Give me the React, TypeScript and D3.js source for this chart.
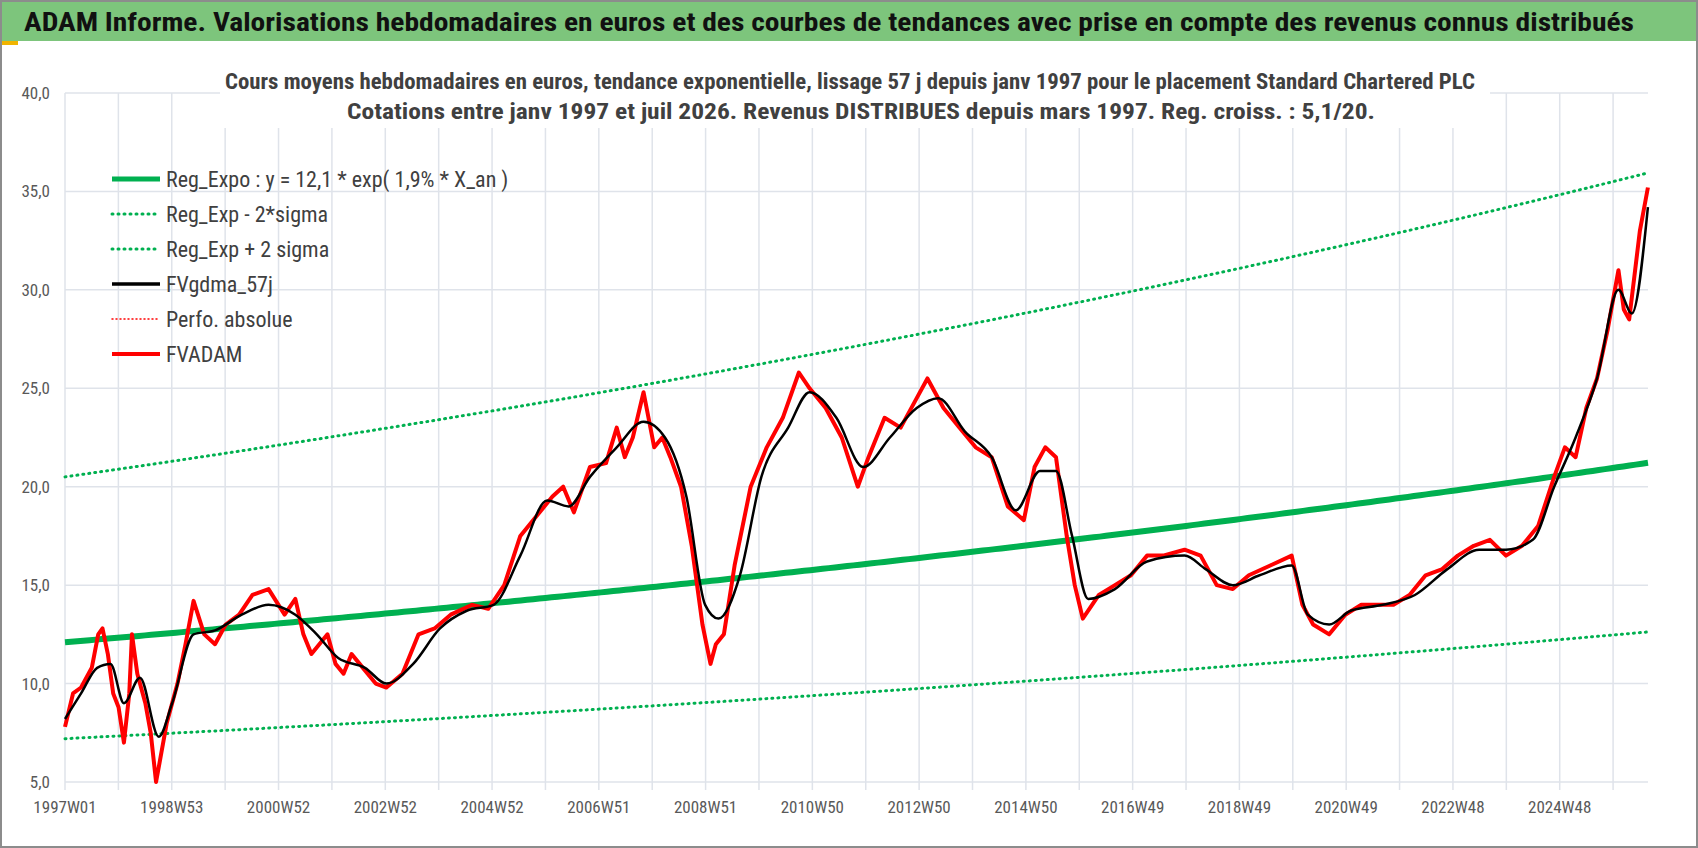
import React from "react";
import * as d3 from "d3";

const redYears = [1997.0,1997.15,1997.3,1997.5,1997.62,1997.7,1997.8,1997.9,1998.0,1998.1,1998.2,1998.25,1998.35,1998.5,1998.6,1998.7,1998.8,1998.9,1999.1,1999.25,1999.4,1999.6,1999.8,2000.0,2000.25,2000.5,2000.8,2001.1,2001.3,2001.45,2001.6,2001.9,2002.05,2002.2,2002.35,2002.5,2002.8,2003.0,2003.3,2003.6,2003.9,2004.2,2004.6,2004.9,2005.2,2005.5,2005.8,2006.1,2006.3,2006.5,2006.8,2007.1,2007.3,2007.45,2007.6,2007.8,2008.0,2008.15,2008.3,2008.5,2008.7,2008.9,2009.05,2009.15,2009.3,2009.5,2009.8,2010.1,2010.4,2010.7,2010.9,2011.2,2011.5,2011.8,2012.0,2012.3,2012.6,2012.9,2013.1,2013.4,2013.7,2014.0,2014.3,2014.6,2014.9,2015.1,2015.3,2015.5,2015.7,2015.85,2016.0,2016.3,2016.6,2016.9,2017.2,2017.5,2017.9,2018.2,2018.5,2018.8,2019.1,2019.5,2019.9,2020.1,2020.3,2020.6,2020.9,2021.2,2021.5,2021.8,2022.1,2022.4,2022.7,2023.0,2023.3,2023.6,2023.9,2024.2,2024.5,2024.8,2025.0,2025.2,2025.4,2025.6,2025.8,2026.0,2026.1,2026.2,2026.4,2026.55];
const redValues = [7.8,9.5,9.8,10.8,12.5,12.8,11.5,9.5,8.8,7.0,9.5,12.5,10.5,9.0,7.5,5.0,6.5,8.0,10.0,12.0,14.2,12.5,12.0,13.0,13.5,14.5,14.8,13.5,14.3,12.5,11.5,12.5,11.0,10.5,11.5,11.0,10.0,9.8,10.5,12.5,12.8,13.5,14.0,13.8,15.0,17.5,18.5,19.5,20.0,18.7,21.0,21.2,23.0,21.5,22.5,24.8,22.0,22.5,21.5,20.0,17.0,13.0,11.0,12.0,12.5,16.0,20.0,22.0,23.5,25.8,25.0,24.0,22.5,20.0,21.5,23.5,23.0,24.5,25.5,24.0,23.0,22.0,21.5,19.0,18.3,21.0,22.0,21.5,17.5,15.0,13.3,14.5,15.0,15.5,16.5,16.5,16.8,16.5,15.0,14.8,15.5,16.0,16.5,14.0,13.0,12.5,13.5,14.0,14.0,14.0,14.5,15.5,15.8,16.5,17.0,17.3,16.5,17.0,18.0,20.5,22.0,21.5,24.0,25.5,28.0,31.0,29.0,28.5,33.0,35.2];

const blackYears = [1997.0,1997.3,1997.6,1997.85,1998.1,1998.4,1998.75,1999.0,1999.4,1999.8,2000.3,2000.8,2001.3,2001.7,2002.1,2002.6,2003.0,2003.5,2004.0,2004.5,2005.0,2005.5,2006.0,2006.4,2006.8,2007.3,2007.8,2008.2,2008.6,2008.95,2009.2,2009.6,2010.0,2010.5,2010.9,2011.4,2011.9,2012.4,2012.9,2013.3,2013.8,2014.3,2014.75,2015.2,2015.5,2015.8,2016.1,2016.6,2017.2,2017.9,2018.3,2018.8,2019.3,2019.9,2020.2,2020.6,2021.0,2021.6,2022.2,2022.8,2023.4,2023.9,2024.4,2024.8,2025.2,2025.6,2026.0,2026.25,2026.55];
const blackValues = [8.2,9.5,10.8,11.0,9.0,10.3,7.3,9.0,12.5,12.7,13.5,14.0,13.5,12.5,11.3,10.8,10.0,11.0,12.8,13.7,14.0,16.5,19.3,19.0,20.5,22.0,23.3,22.5,19.5,14.0,13.3,15.5,20.5,23.0,24.8,23.5,21.0,22.5,24.0,24.5,22.8,21.5,18.8,20.8,20.8,17.5,14.3,14.8,16.2,16.5,15.8,15.0,15.5,16.0,13.5,13.0,13.7,14.0,14.5,15.8,16.8,16.8,17.3,20.0,22.5,25.5,30.0,28.8,34.2];

const trendA = 12.1;
const trendLow = 7.2;
const trendHigh = 20.5;
const trendRate = 0.019;
const yTicks = [5,10,15,20,25,30,35,40];
const xTickLabels = ["1997W01","1998W53","2000W52","2002W52","2004W52","2006W51","2008W51","2010W50","2012W50","2014W50","2016W49","2018W49","2020W49","2022W48","2024W48"];

const TOTAL_WEEKS = 1542;
const W = 1698, H = 848;

export default function App() {
  const x = d3.scaleLinear().domain([0, TOTAL_WEEKS]).range([65, 1648]);
  const y = d3.scaleLinear().domain([5, 40]).range([782, 93]);
  const wk = (yr: number) => (yr - 1997) * 52.18;
  const line = d3.line<[number, number]>().x(d => x(d[0])).y(d => y(d[1]));
  const smooth = d3.line<[number, number]>().x(d => x(d[0])).y(d => y(d[1])).curve(d3.curveMonotoneX);
  const red = line(redYears.map((t, i) => [wk(t), redValues[i]]));
  const black = smooth(blackYears.map((t, i) => [wk(t), blackValues[i]]));
  const trendPts = (a: number) => d3.range(0, TOTAL_WEEKS + 1, 6).map(w => [w, a * Math.exp(trendRate * w / 52.18)] as [number, number]);
  const vgrid = d3.range(0, TOTAL_WEEKS + 1, 52);
  const font = "'Liberation Sans Narrow', 'Roboto Condensed', 'Arial Narrow', sans-serif";
  const legend = [
    { t: "Reg_Expo : y = 12,1 * exp( 1,9% *  X_an )", c: "#00b050", w: 5, dash: "" },
    { t: "Reg_Exp - 2*sigma", c: "#00b050", w: 3, dash: "1 5" },
    { t: "Reg_Exp + 2 sigma", c: "#00b050", w: 3, dash: "1 5" },
    { t: "FVgdma_57j", c: "#000", w: 3.5, dash: "" },
    { t: "Perfo. absolue", c: "#ff0000", w: 1.5, dash: "1 3" },
    { t: "FVADAM", c: "#ff0000", w: 4, dash: "" },
  ];
  return (
    <svg width={W} height={H} style={{ position: "absolute", left: 0, top: 0, background: "#fff" }} fontFamily={font}>
      <rect x={1} y={1} width={W - 2} height={H - 2} fill="#fff" stroke="#8c8c8c" strokeWidth={2} />
      <rect x={2} y={2} width={W - 4} height={39} fill="#7dc57c" />
      <rect x={2} y={41} width={16} height={4} fill="#f0b400" />
      <text x={24} y={31} fontSize={26} fontWeight="bold" fill="#111" textLength={1610} lengthAdjust="spacingAndGlyphs">ADAM Informe. Valorisations hebdomadaires en euros et des courbes de tendances avec prise en compte des revenus connus distribués</text>
      {yTicks.map(v => <line key={v} x1={65} x2={1648} y1={y(v)} y2={y(v)} stroke="#dfe3ea" strokeWidth={1.5} />)}
      {vgrid.map(w => <line key={w} x1={x(w)} x2={x(w)} y1={y(40)} y2={y(5) + 8} stroke="#dfe3ea" strokeWidth={1.5} />)}
      <rect x={220} y={62} width={1270} height={66} fill="#fff" />
      <text x={850} y={89} fontSize={22} fontWeight="bold" fill="#404040" textAnchor="middle" textLength={1250} lengthAdjust="spacingAndGlyphs">Cours moyens hebdomadaires en euros, tendance exponentielle, lissage 57 j depuis janv 1997 pour le placement Standard Chartered PLC</text>
      <text x={861} y={119} fontSize={22} fontWeight="bold" fill="#404040" textAnchor="middle" textLength={1028} lengthAdjust="spacingAndGlyphs">Cotations entre janv 1997 et juil 2026. Revenus DISTRIBUES depuis mars 1997. Reg. croiss. : 5,1/20.</text>
      {yTicks.map(v => <text key={v} x={50} y={y(v) + 6} fontSize={17} fill="#595959" textAnchor="end">{d3.format(".1f")(v).replace(".", ",")}</text>)}
      {xTickLabels.map((l, i) => <text key={l} x={x(i * 104)} y={813} fontSize={17} fill="#595959" textAnchor="middle">{l}</text>)}
      <path d={line(trendPts(trendHigh))!} fill="none" stroke="#00b050" strokeWidth={3} strokeDasharray="1 5" strokeLinecap="round" />
      <path d={line(trendPts(trendLow))!} fill="none" stroke="#00b050" strokeWidth={3} strokeDasharray="1 5" strokeLinecap="round" />
      <path d={line(trendPts(trendA))!} fill="none" stroke="#00b050" strokeWidth={6} />
      <path d={red!} fill="none" stroke="#ff0000" strokeWidth={4} strokeLinejoin="round" />
      <path d={black!} fill="none" stroke="#000" strokeWidth={2.5} strokeLinejoin="round" />
      {legend.map((e, i) => {
        const yy = 179 + i * 35;
        return (
          <g key={i}>
            <line x1={112} x2={160} y1={yy} y2={yy} stroke={e.c} strokeWidth={e.w} strokeDasharray={e.dash} strokeLinecap={e.dash ? "round" : "butt"} />
            <text x={166} y={yy + 8} fontSize={22} fill="#404040">{e.t}</text>
          </g>
        );
      })}
    </svg>
  );
}
